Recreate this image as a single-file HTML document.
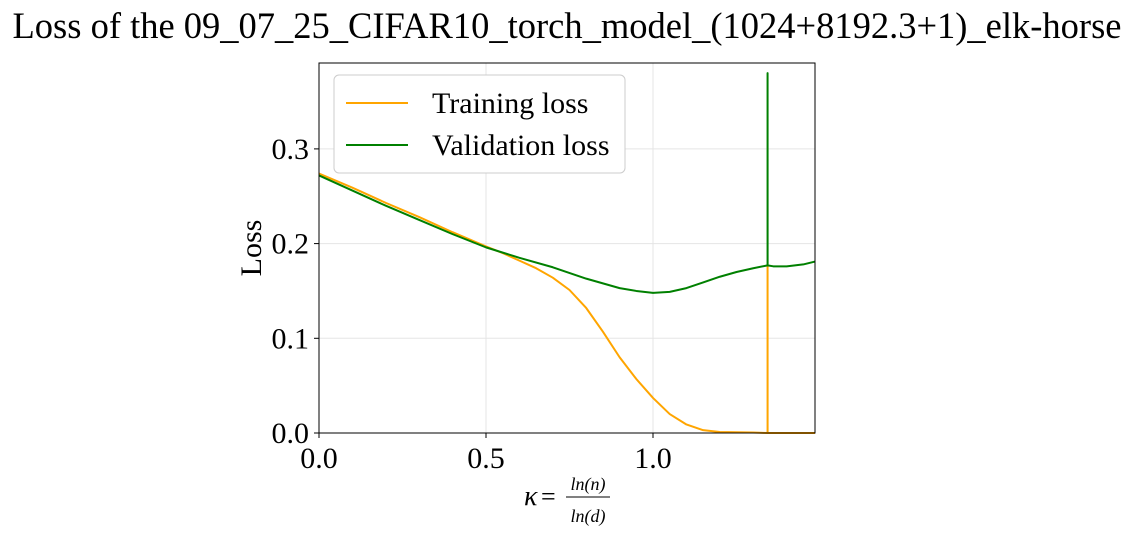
<!DOCTYPE html>
<html><head><meta charset="utf-8"><style>
body{margin:0;background:#fff;}
svg text{font-family:"Liberation Serif","DejaVu Serif",serif;fill:#000;}
</style></head><body>
<svg id="chart" width="1134" height="538" viewBox="0 0 1134 538" xmlns="http://www.w3.org/2000/svg">
<text x="567" y="38" font-size="36.5" text-anchor="middle">Loss of the 09_07_25_CIFAR10_torch_model_(1024+8192.3+1)_elk-horse</text>
<g id="grid"></g>
<g id="series"></g>
<rect x="319" y="63" width="496" height="370" fill="none" stroke="#000" stroke-width="1"/>
<g id="ticks"></g>
<text transform="translate(261,248) rotate(-90)" font-size="30" text-anchor="middle">Loss</text>
<g>
<text x="524" y="505" font-size="28" font-style="italic">κ</text>
<text x="541" y="505" font-size="26">=</text>
<text x="588" y="490" font-size="18" font-style="italic" text-anchor="middle">ln(n)</text>
<line x1="566" y1="497" x2="610" y2="497" stroke="#000" stroke-width="1"/>
<text x="588" y="522" font-size="18" font-style="italic" text-anchor="middle">ln(d)</text>
</g>
<g>
<rect x="334" y="75" width="291" height="98" rx="5" fill="#fff" stroke="#ccc"/>
<line x1="346" y1="103" x2="408" y2="103" stroke="orange" stroke-width="2"/>
<text x="432" y="113" font-size="30">Training loss</text>
<line x1="346" y1="145" x2="408" y2="145" stroke="green" stroke-width="2"/>
<text x="432" y="155" font-size="30">Validation loss</text>
</g>
</svg>
<script>
const trainK = [0,0.1,0.2,0.3,0.4,0.5,0.55,0.6,0.65,0.7,0.75,0.8,0.85,0.9,0.95,1.0,1.05,1.1,1.15,1.2,1.3,1.343,1.343,1.3431,1.4,1.485];
const trainLoss = [0.274,0.259,0.243,0.228,0.212,0.197,0.190,0.182,0.174,0.164,0.151,0.132,0.107,0.080,0.057,0.037,0.020,0.009,0.003,0.001,0.0005,0.0,0.178,0.0,0.0,0.0];
const valK = [0,0.1,0.2,0.3,0.4,0.5,0.6,0.7,0.8,0.85,0.9,0.95,1.0,1.05,1.1,1.15,1.2,1.25,1.3,1.343,1.343,1.3431,1.36,1.4,1.45,1.485];
const valLoss = [0.272,0.256,0.24,0.225,0.21,0.196,0.185,0.175,0.163,0.158,0.153,0.150,0.148,0.149,0.153,0.159,0.165,0.170,0.174,0.177,0.38,0.177,0.176,0.176,0.178,0.181];
const xTicks = [0,0.5,1.0];
const xTickLabels = ["0.0","0.5","1.0"];
const yTicks = [0,0.1,0.2,0.3];
const yTickLabels = ["0.0","0.1","0.2","0.3"];
const X0=319,X1=815,Y0=433,Y1=63,XMAX=1.485,YMAX=0.3907;
const sx=v=>X0+v/XMAX*(X1-X0);
const sy=v=>Y0-v/YMAX*(Y0-Y1);
const NS="http://www.w3.org/2000/svg";
const grid=document.getElementById('grid'),ticks=document.getElementById('ticks'),series=document.getElementById('series');
function mk(tag,attrs,parent){const e=document.createElementNS(NS,tag);for(const k in attrs)e.setAttribute(k,attrs[k]);parent.appendChild(e);return e;}
xTicks.forEach((v,i)=>{
 const g=mk('line',{x1:sx(v),x2:sx(v),y1:Y1,y2:Y0,stroke:'#e5e5e5','stroke-width':1},grid);
 
 
 mk('line',{x1:sx(v),x2:sx(v),y1:Y0,y2:Y0+5,stroke:'#000'},ticks);
 const t=mk('text',{x:sx(v),y:Y0+35,'font-size':30,'text-anchor':'middle'},ticks);
 t.textContent=xTickLabels[i];
 
 
});
yTicks.forEach((v,i)=>{
 const g=mk('line',{x1:X0,x2:X1,y1:sy(v),y2:sy(v),stroke:'#e5e5e5','stroke-width':1},grid);
 
 
 mk('line',{x1:X0-5,x2:X0,y1:sy(v),y2:sy(v),stroke:'#000'},ticks);
 const t=mk('text',{x:X0-10,y:sy(v)+10,'font-size':30,'text-anchor':'end'},ticks);
 t.textContent=yTickLabels[i];
 
 
});
function line(ks,vs,color,name){
 const d=ks.map((k,i)=>(i?'L':'M')+sx(k).toFixed(2)+','+sy(vs[i]).toFixed(2)).join('');
 const p=mk('path',{d:d,fill:'none',stroke:color,'stroke-width':2,'stroke-linejoin':'round'},series);
 
 
}
line(trainK,trainLoss,'orange','training-loss-line');
line(valK,valLoss,'green','validation-loss-line');
</script>
</body></html>
